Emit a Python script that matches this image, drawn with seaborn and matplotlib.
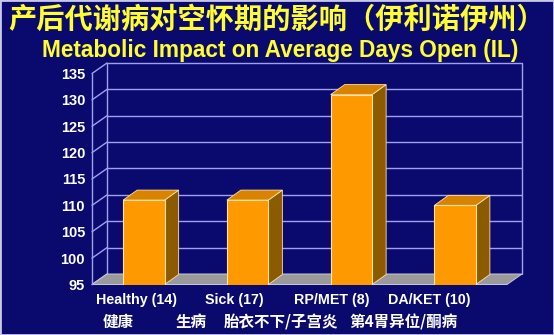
import numpy as np
import pandas as pd
import matplotlib
matplotlib.use("Agg")
import matplotlib.pyplot as plt
from matplotlib.patches import Polygon, Rectangle
import seaborn as sns

# ---------------- data ----------------
categories = ["Healthy (14)", "Sick (17)", "RP/MET (8)", "DA/KET (10)"]
categories_cn = ["健康", "生病", "胎衣不下/子宫炎", "第4胃异位/酮病"]
days_open = [111, 111, 131, 110]
y_ticks = [95, 100, 105, 110, 115, 120, 125, 130, 135]
title_cn = "产后代谢病对空怀期的影响（伊利诺伊州）"
title_en = "Metabolic Impact on Average Days Open (IL)"

# ---------------- style ----------------
BG = "#0A0A6E"
GRID = "#A0A0F0"
FRONT = "#FF9900"
TOP = "#D98400"
SIDE = "#8C5A00"
EDGE = "#FFE2A8"
FLOOR = "#9A9A9A"
YELLOW = "#FFFF30"
EN_FONT = ["Liberation Sans", "DejaVu Sans"]
CN_FONT = ["Noto Sans CJK SC", "DejaVu Sans"]

sns.set_style("white")
plt.rcParams["font.family"] = EN_FONT

W, H = 554, 335
fig = plt.figure(figsize=(W / 100, H / 100), dpi=100, facecolor=BG)
ax_l, ax_r, ax_t, ax_b = 92, 507, 73.5, 284.5
ax = fig.add_axes([ax_l / W, (H - ax_b) / H, (ax_r - ax_l) / W, (ax_b - ax_t) / H])
ax.set_facecolor("none")

df = pd.DataFrame({"category": categories, "days": days_open})
sns.barplot(data=df, x="category", y="days", color=FRONT, saturation=1,
            width=0.40, edgecolor=EDGE, linewidth=0.8, ax=ax, zorder=5)

ax.set_xlim(-0.5, len(categories) - 0.5)
ax.set_ylim(y_ticks[0], y_ticks[-1])

# pixel -> data conversion from the axes' own scales
p0 = ax.transData.transform((0, y_ticks[0]))
px_per_x = ax.transData.transform((1, y_ticks[0]))[0] - p0[0]
px_per_y = ax.transData.transform((0, y_ticks[0] + 1))[1] - p0[1]
wdx, wdy = 15 / px_per_x, 10.5 / px_per_y   # wall depth
bdx, bdy = 14 / px_per_x, 10 / px_per_y     # bar depth

x0, x1 = ax.get_xlim()
ymin, ymax = ax.get_ylim()

# back-wall gridlines and left-side diagonals
for t in y_ticks:
    if t != ymin:
        ax.plot([x0 + wdx, x1 + wdx], [t + wdy, t + wdy], color=GRID, lw=1.0,
                zorder=1, clip_on=False, solid_capstyle="butt")
    ax.plot([x0, x0 + wdx], [t, t + wdy], color=GRID, lw=1.0, zorder=1, clip_on=False)
# wall edges
for xe in (x0 + wdx, x1 + wdx):
    ax.plot([xe, xe], [ymin + wdy, ymax + wdy], color=GRID, lw=1.0, zorder=1, clip_on=False)

# floor
floor = Polygon([(x0, ymin), (x1, ymin), (x1 + wdx, ymin + wdy), (x0 + wdx, ymin + wdy)],
                closed=True, facecolor=FLOOR, edgecolor="#C8C8E0", lw=0.7, zorder=2, clip_on=False)
ax.add_patch(floor)

# 3D faces of the bars, derived from seaborn's bar patches
for bar in list(ax.patches):
    if bar is floor:
        continue
    bx0 = bar.get_x()
    bx1 = bx0 + bar.get_width()
    h = bar.get_y() + bar.get_height()
    side = Polygon([(bx1, ymin), (bx1, h), (bx1 + bdx, h + bdy), (bx1 + bdx, ymin + bdy)],
                   closed=True, facecolor=SIDE, edgecolor=EDGE, lw=0.6, zorder=4, clip_on=False)
    top = Polygon([(bx0, h), (bx1, h), (bx1 + bdx, h + bdy), (bx0 + bdx, h + bdy)],
                  closed=True, facecolor=TOP, edgecolor=EDGE, lw=0.6, zorder=4, clip_on=False)
    ax.add_patch(side)
    ax.add_patch(top)

# axes decoration
for s in ("top", "right", "bottom"):
    ax.spines[s].set_visible(False)
ax.spines["left"].set_color(GRID)
ax.spines["left"].set_linewidth(1.0)
ax.set_yticks(y_ticks)
ax.set_yticklabels([str(t) for t in y_ticks], color="white", fontweight="bold",
                   fontsize=10.5, family=EN_FONT)
ax.tick_params(axis="y", length=4, width=1, color=GRID, pad=1)
ax.set_xticks(np.arange(len(categories) + 1) - 0.5)
ax.set_xticklabels([])
ax.tick_params(axis="x", length=3, width=1, color=GRID, direction="out")
ax.set_xlabel("")
ax.set_ylabel("")
ax.grid(False)

# category labels
xt = ax.get_xaxis_transform()
for i, lab in enumerate(categories):
    ax.text(i * 0.94 - 0.07, -0.073, lab, transform=xt, ha="center", va="center",
            color="white", fontweight="bold", fontsize=10.3, family=EN_FONT)
cn_x = [-0.25, 0.45, 1.32, 2.50]
for xp, lab in zip(cn_x, categories_cn):
    ax.text(xp, -0.178, lab, transform=xt, ha="center", va="center",
            color="white", fontweight="bold", fontsize=11.2, family=CN_FONT)

# titles
fig.text(0.5, 1 - 20 / H, title_cn, ha="center", va="center", color=YELLOW,
         fontsize=20.3, fontweight="bold", family=CN_FONT)
fig.text(280 / W, 1 - 50 / H, title_en, ha="center", va="center", color=YELLOW,
         fontsize=16.3, fontweight="bold", family=EN_FONT)

# thin light frame around the slide
fig.patches.append(Rectangle((0, 0), 1, 1, transform=fig.transFigure, fill=False,
                             edgecolor="#C8C8E8", lw=2, zorder=10))

fig.savefig("out.png", dpi=100, facecolor=BG)
